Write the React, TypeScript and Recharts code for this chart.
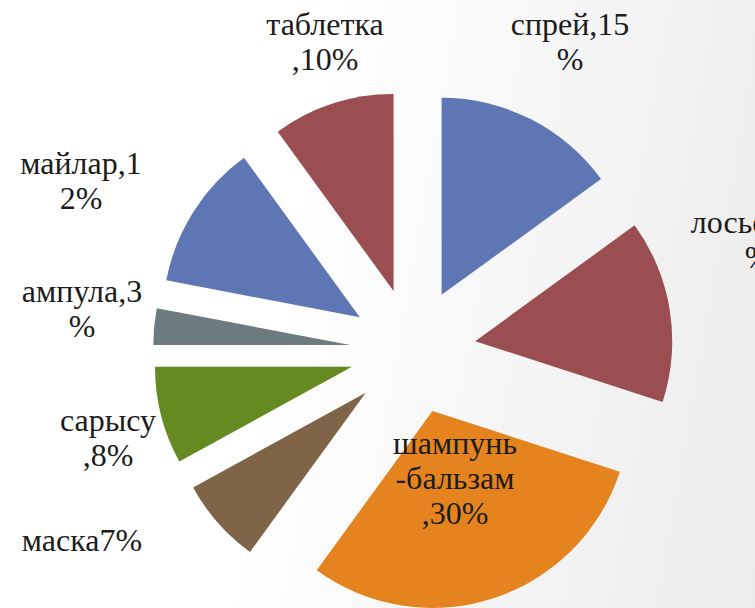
import { PieChart, Pie, Cell, Sector } from "recharts";

const categories = ["спрей", "лосьон", "шампунь-бальзам", "маска", "сарысу", "ампула", "майлар", "таблетка"];
const shares = [15, 15, 30, 7, 8, 3, 12, 10];
const labelLines = [
  ["спрей,15", "%"],
  ["лосьон,15", "%"],
  ["шампунь", "-бальзам", ",30%"],
  ["маска7%"],
  ["сарысу", ",8%"],
  ["ампула,3", "%"],
  ["майлар,1", "2%"],
  ["таблетка", ",10%"],
];
const colors = ["#5f76b4", "#9a4e51", "#e5841f", "#7f6447", "#668a22", "#6e7b7e", "#5f76b4", "#9a4e51"];

// where each label block sits, relative to the pie centre
const labelOffsets = [
  [157, -309],
  [345, -111],
  [42, 127],
  [-331, 189],
  [-305, 87],
  [-331, -42],
  [-332, -170],
  [-88, -309],
];

const data = categories.map((name, i) => ({ name, value: shares[i] }));

const RAD = Math.PI / 180;
const EXPLODE = 63;
const FONT = 32;
const LINE = 35;
const SERIF = "Liberation Serif, DejaVu Serif, Times, serif";

function ExplodedSector(props: any) {
  const { cx, cy, midAngle, innerRadius, outerRadius, startAngle, endAngle, fill } = props;
  const dx = EXPLODE * Math.cos(-midAngle * RAD);
  const dy = EXPLODE * Math.sin(-midAngle * RAD);
  return (
    <Sector
      cx={cx + dx}
      cy={cy + dy}
      innerRadius={innerRadius}
      outerRadius={outerRadius}
      startAngle={startAngle}
      endAngle={endAngle}
      fill={fill}
    />
  );
}

function renderLabel(props: any) {
  const { cx, cy, index } = props;
  const lines = labelLines[index];
  const [dx, dy] = labelOffsets[index];
  const x = cx + dx;
  const y0 = cy + dy - ((lines.length - 1) * LINE) / 2 + FONT * 0.33;
  return (
    <g>
      {lines.map((l, i) => (
        <text
          key={i}
          x={x}
          y={y0 + i * LINE}
          textAnchor="middle"
          fill="#1c1c1c"
          fontFamily={SERIF}
          fontSize={FONT}
        >
          {l}
        </text>
      ))}
    </g>
  );
}

export default function App() {
  return (
    <div
      style={{
        position: "absolute",
        left: 0,
        top: 0,
        width: 755,
        height: 608,
        overflow: "hidden",
        fontFamily: SERIF,
        background: "linear-gradient(100deg, #ffffff 38%, #ebebeb 100%)",
      }}
    >
      <PieChart width={755} height={608} margin={{ top: 0, right: 0, bottom: 0, left: 0 }}>
        <Pie
          data={data}
          dataKey="value"
          nameKey="name"
          cx={413}
          cy={351}
          outerRadius={197}
          startAngle={90}
          endAngle={-270}
          stroke="none"
          label={renderLabel}
          labelLine={false}
          shape={ExplodedSector}
          isAnimationActive={false}
        >
          {data.map((d, i) => (
            <Cell key={d.name} fill={colors[i]} />
          ))}
        </Pie>
      </PieChart>
    </div>
  );
}
